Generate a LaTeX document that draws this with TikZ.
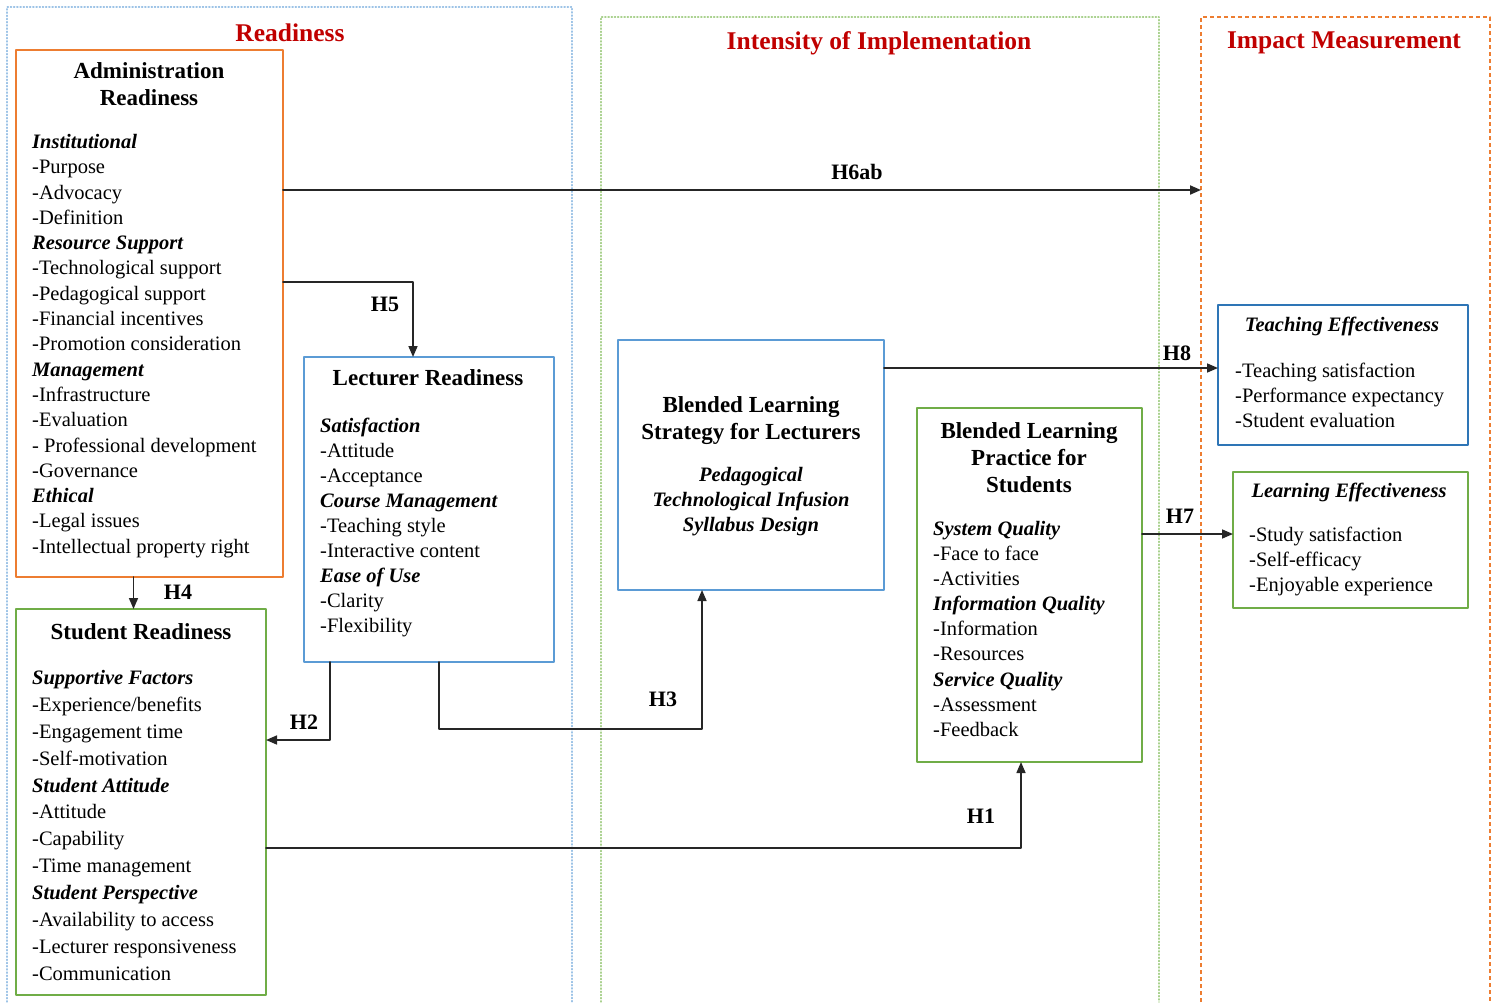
\documentclass[tikz,border=0pt]{standalone}
\usepackage{fontspec}
\setmainfont{Liberation Serif}
\usetikzlibrary{arrows.meta}

\definecolor{admorange}{HTML}{ED7D31}
\definecolor{lecblue}{HTML}{5B9BD5}
\definecolor{teachblue}{HTML}{2E75B6}
\definecolor{stugreen}{HTML}{70AD47}
\definecolor{titlered}{HTML}{C00000}
\definecolor{readyblue}{HTML}{9DC3E6}
\definecolor{intgreen}{HTML}{A9D18E}

\newcommand\grp[1]{\textbf{\textit{#1}}}

\tikzset{
  box/.style={draw, line width=1.2pt, anchor=north west, inner sep=0, outer sep=0},
  frameline/.style={line width=1.2pt, dotted},
  sect/.style={font=\fontsize{25.5}{30}\selectfont\bfseries, text=titlered, inner sep=0},
  boxhead/.style={font=\fontsize{23}{27}\selectfont\bfseries, align=center, inner sep=0},
  items/.style={font=\fontsize{20.5}{25.3}\selectfont, align=left, anchor=north west, inner sep=0},
  hlabel/.style={font=\fontsize{22}{26}\selectfont\bfseries, inner sep=0},
  link/.style={line width=1.6pt, draw=black!85, -{Triangle[length=11pt,width=9pt]}}
}

\begin{document}
\begin{tikzpicture}[x=1pt, y=-1pt, line cap=round, line join=round]
  \useasboundingbox (0,0) rectangle (1497,1002);
  % section frames
  \draw[frameline, draw=readyblue] (7,1002) -- (7,7) -- (572,7) -- (572,1002);
  \draw[frameline, draw=intgreen] (601,1002) -- (601,17) -- (1159,17) -- (1159,1002);
  \draw[line width=1.2pt, dash pattern=on 4pt off 3pt, draw=admorange, line cap=butt] (1201,1002) -- (1201,17) -- (1490,17) -- (1490,1002);
  \coordinate (impactL) at (1201,190);
  \node[sect] (readiness) at (290,33) {Readiness};
  \node[sect] (intensity) at (879,43) {Intensity of Implementation};
  \node[sect] (impact) at (1344,43) {Impact Measurement};

  % boxes
  \node[box, draw=admorange, minimum width=267, minimum height=527] (admin) at (16,50) {};
  \node[box, draw=stugreen, minimum width=250, minimum height=386] (student) at (16,609) {};
  \node[box, draw=lecblue, minimum width=250, minimum height=305] (lect) at (304,357) {};
  \node[box, draw=lecblue, minimum width=266, minimum height=250] (strat) at (618,340) {};
  \node[box, draw=stugreen, minimum width=225, minimum height=354] (prac) at (917,408) {};
  \node[box, draw=teachblue, minimum width=250, minimum height=140] (teach) at (1218,305) {};
  \node[box, draw=stugreen, minimum width=235, minimum height=136] (learn) at (1233,472) {};

  % box texts
  \node[boxhead] (admin-t) at (149,84) {Administration\\Readiness};
  \node[items] (admin-l) at (32,134) {\grp{Institutional}\\-Purpose\\-Advocacy\\-Definition\\
    \grp{Resource Support}\\-Technological support\\-Pedagogical support\\-Financial incentives\\
    -Promotion consideration\\\grp{Management}\\-Infrastructure\\-Evaluation\\
    - Professional development\\-Governance\\\grp{Ethical}\\-Legal issues\\-Intellectual property right};

  \node[boxhead] (student-t) at (141,632) {Student Readiness};
  \node[items, font=\fontsize{20.5}{26.9}\selectfont] (student-l) at (32,670) {\grp{Supportive Factors}\\
    -Experience/benefits\\-Engagement time\\-Self-motivation\\\grp{Student Attitude}\\-Attitude\\
    -Capability\\-Time management\\\grp{Student Perspective}\\-Availability to access\\
    -Lecturer responsiveness\\-Communication};

  \node[boxhead] (lect-t) at (428,378) {Lecturer Readiness};
  \node[items, font=\fontsize{20.5}{25}\selectfont] (lect-l) at (320,418) {\grp{Satisfaction}\\-Attitude\\
    -Acceptance\\\grp{Course Management}\\-Teaching style\\-Interactive content\\
    \grp{Ease of Use}\\-Clarity\\-Flexibility};

  \node[boxhead] (strat-t) at (751,420.5) {Blended Learning\\Strategy for Lecturers};
  \node[items, anchor=center, align=center, font=\fontsize{20.5}{25}\selectfont\bfseries\itshape]
    (strat-l) at (751,502) {Pedagogical\\Technological Infusion\\Syllabus Design};

  \node[boxhead] (prac-t) at (1029,457.5) {Blended Learning\\Practice for\\Students};
  \node[items, font=\fontsize{20.5}{25.1}\selectfont] (prac-l) at (933,521) {\grp{System Quality}\\
    -Face to face\\-Activities\\\grp{Information Quality}\\-Information\\-Resources\\
    \grp{Service Quality}\\-Assessment\\-Feedback};

  \node[items, anchor=center, font=\fontsize{20.5}{25}\selectfont\bfseries\itshape] (teach-t) at (1342,326) {Teaching Effectiveness};
  \node[items, font=\fontsize{20.5}{25}\selectfont] (teach-l) at (1235,363) {-Teaching satisfaction\\
    -Performance expectancy\\-Student evaluation};

  \node[items, anchor=center, font=\fontsize{20.5}{25}\selectfont\bfseries\itshape] (learn-t) at (1349,492) {Learning Effectiveness};
  \node[items, font=\fontsize{20.5}{25}\selectfont] (learn-l) at (1249,527) {-Study satisfaction\\
    -Self-efficacy\\-Enjoyable experience};

  % links
  \draw[link, line width=2pt] (admin.east |- impactL) -- (impactL);
  \draw[link] ([yshift=-232pt]admin.north east) -| ([xshift=-16pt]lect.north);
  \draw[link] ([xshift=-16pt]admin.south) -- ([xshift=-16pt]admin.south |- student.north);
  \draw[link] ([xshift=-99pt]lect.south) |- ([yshift=62pt]student.east);
  \draw[link] ([xshift=10pt]lect.south) -- ++(0,67) -| ([xshift=-49pt]strat.south);
  \draw[link] ([yshift=-46pt]student.east) -| ([xshift=-8.5pt]prac.south);
  \draw[link] ([yshift=97pt]strat.east) -- ([yshift=97pt]strat.east -| teach.west);
  \draw[link] ([yshift=51pt]prac.east) -- ([yshift=51pt]prac.east -| learn.west);

  \foreach \name/\x/\y/\txt in {h6/857/172/H6ab, h5/385/304/H5, h4/178/592/H4, h2/304/722/H2,
      h3/663/699/H3, h1/981/816/H1, h8/1177/353/H8, h7/1180/516/H7}
    \node[hlabel] (\name) at (\x,\y) {\txt};
\end{tikzpicture}
\end{document}
